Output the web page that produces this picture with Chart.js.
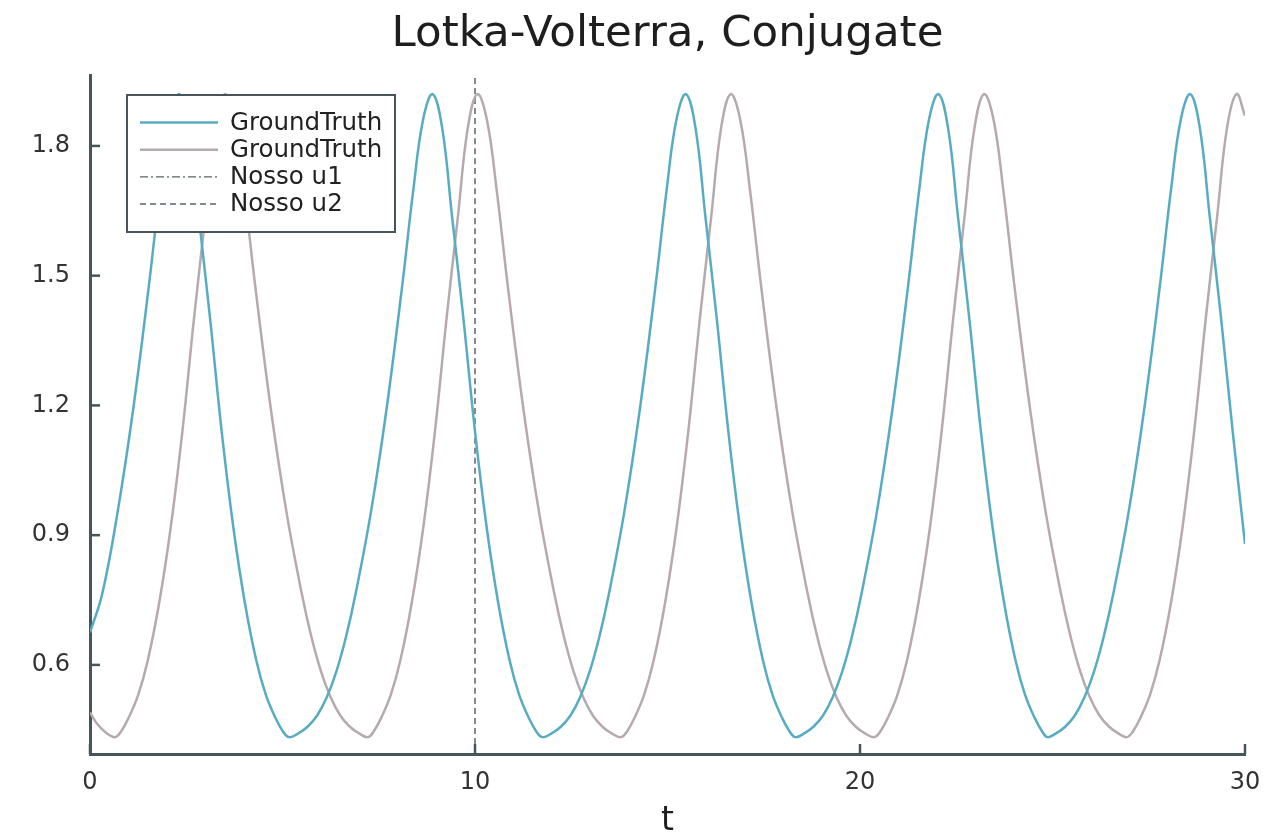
<!DOCTYPE html>
<html>
<head>
<meta charset="utf-8">
<script src="https://cdn.jsdelivr.net/npm/chart.js@4.4.0/dist/chart.umd.min.js"></script>
<style>
  html, body { margin: 0; padding: 0; background: #fff; }
</style>
</head>
<body>
<canvas id="lv" width="1275" height="838"></canvas>
<script>
const tU1 = [0, 0.32, 0.72, 1.12, 1.52, 1.82, 2.07, 2.32,
  2.57, 2.82, 3.12, 3.42, 3.72, 4.02, 4.32, 4.57, 4.82, 5.02, 5.17,
  5.40, 5.65, 5.90, 6.15, 6.40, 6.65, 6.90, 7.30, 7.70, 8.10, 8.40, 8.65, 8.90,
  9.15, 9.40, 9.70, 10.00, 10.30, 10.60, 10.90, 11.15, 11.40, 11.60, 11.75,
  11.98, 12.23, 12.48, 12.73, 12.98, 13.23, 13.48, 13.88, 14.28, 14.68, 14.98, 15.23, 15.48,
  15.73, 15.98, 16.28, 16.58, 16.88, 17.18, 17.48, 17.73, 17.98, 18.18, 18.32,
  18.54, 18.79, 19.04, 19.29, 19.54, 19.79, 20.04, 20.44, 20.84, 21.24, 21.54, 21.79, 22.04,
  22.29, 22.54, 22.84, 23.14, 23.44, 23.74, 24.04, 24.29, 24.54, 24.74, 24.87,
  25.08, 25.33, 25.58, 25.83, 26.08, 26.33, 26.58, 26.98, 27.38, 27.78, 28.08, 28.33, 28.58,
  28.83, 29.08, 29.38, 29.68, 30.00];
const u1 = [0.675, 0.765, 0.955, 1.19, 1.47, 1.70, 1.86, 1.92,
  1.84, 1.64, 1.40, 1.14, 0.92, 0.745, 0.61, 0.53, 0.477, 0.445, 0.433,
  0.441, 0.457, 0.483, 0.525, 0.585, 0.665, 0.765, 0.955, 1.19, 1.47, 1.70, 1.86, 1.92,
  1.84, 1.64, 1.40, 1.14, 0.92, 0.745, 0.61, 0.53, 0.477, 0.445, 0.433,
  0.441, 0.457, 0.483, 0.525, 0.585, 0.665, 0.765, 0.955, 1.19, 1.47, 1.70, 1.86, 1.92,
  1.84, 1.64, 1.40, 1.14, 0.92, 0.745, 0.61, 0.53, 0.477, 0.445, 0.433,
  0.441, 0.457, 0.483, 0.525, 0.585, 0.665, 0.765, 0.955, 1.19, 1.47, 1.70, 1.86, 1.92,
  1.84, 1.64, 1.40, 1.14, 0.92, 0.745, 0.61, 0.53, 0.477, 0.445, 0.433,
  0.441, 0.457, 0.483, 0.525, 0.585, 0.665, 0.765, 0.955, 1.19, 1.47, 1.70, 1.86, 1.92,
  1.84, 1.64, 1.40, 1.14, 0.88];

// ground truth u2 (predator)
const tU2 = [0, 0.20, 0.42, 0.65,
  0.80, 1.00, 1.25, 1.50, 1.80, 2.10, 2.40, 2.70, 3.00, 3.25, 3.50,
  3.75, 4.00, 4.30, 4.70, 5.10, 5.50, 5.75, 6.00, 6.25, 6.50, 6.75, 7.00, 7.22,
  7.36, 7.56, 7.81, 8.06, 8.36, 8.66, 8.96, 9.26, 9.56, 9.81, 10.06,
  10.31, 10.56, 10.86, 11.26, 11.66, 12.06, 12.31, 12.56, 12.81, 13.06, 13.31, 13.56, 13.79,
  13.94, 14.14, 14.39, 14.64, 14.94, 15.24, 15.54, 15.84, 16.14, 16.39, 16.64,
  16.89, 17.14, 17.44, 17.84, 18.24, 18.64, 18.89, 19.14, 19.39, 19.64, 19.89, 20.14, 20.37,
  20.52, 20.72, 20.97, 21.22, 21.52, 21.82, 22.12, 22.42, 22.72, 22.97, 23.22,
  23.47, 23.72, 24.02, 24.42, 24.82, 25.22, 25.47, 25.72, 25.97, 26.22, 26.47, 26.72, 26.93,
  27.08, 27.28, 27.53, 27.78, 28.08, 28.38, 28.68, 28.98, 29.28, 29.53, 29.78,
  30.00];
const u2 = [0.49, 0.462, 0.443, 0.433,
  0.445, 0.477, 0.53, 0.61, 0.745, 0.92, 1.14, 1.40, 1.64, 1.84, 1.92,
  1.86, 1.70, 1.47, 1.19, 0.955, 0.765, 0.665, 0.585, 0.525, 0.483, 0.457, 0.441, 0.433,
  0.445, 0.477, 0.53, 0.61, 0.745, 0.92, 1.14, 1.40, 1.64, 1.84, 1.92,
  1.86, 1.70, 1.47, 1.19, 0.955, 0.765, 0.665, 0.585, 0.525, 0.483, 0.457, 0.441, 0.433,
  0.445, 0.477, 0.53, 0.61, 0.745, 0.92, 1.14, 1.40, 1.64, 1.84, 1.92,
  1.86, 1.70, 1.47, 1.19, 0.955, 0.765, 0.665, 0.585, 0.525, 0.483, 0.457, 0.441, 0.433,
  0.445, 0.477, 0.53, 0.61, 0.745, 0.92, 1.14, 1.40, 1.64, 1.84, 1.92,
  1.86, 1.70, 1.47, 1.19, 0.955, 0.765, 0.665, 0.585, 0.525, 0.483, 0.457, 0.441, 0.433,
  0.445, 0.477, 0.53, 0.61, 0.745, 0.92, 1.14, 1.40, 1.64, 1.84, 1.92,
  1.87];

// "Nosso" predictions: only the vertical marker at t = 10 is visible
const tNosso = [10, 10];
const nossoU1 = [];
const nossoU2 = [0.394, 1.964];

const xTicks = [0, 10, 20, 30];
const yTicks = [0.6, 0.9, 1.2, 1.5, 1.8];
const seriesNames = ["GroundTruth", "GroundTruth", "Nosso u1", "Nosso u2"];

const axisColor = "#46555a";
const FONT = "DejaVu Sans";

function pts(ts, vs) {
  return vs.map((v, i) => ({ x: ts[i], y: v }));
}

// Julia-style inward tick marks
const tickMarks = {
  id: "tickMarks",
  afterDraw(chart) {
    const { ctx, chartArea: a, scales: { x, y } } = chart;
    ctx.save();
    ctx.strokeStyle = axisColor;
    ctx.lineWidth = 2.5;
    y.ticks.forEach(t => {
      const py = y.getPixelForValue(t.value);
      ctx.beginPath();
      ctx.moveTo(a.left, py);
      ctx.lineTo(a.left + 10, py);
      ctx.stroke();
    });
    x.ticks.forEach(t => {
      const px = x.getPixelForValue(t.value);
      ctx.beginPath();
      ctx.moveTo(px, a.bottom);
      ctx.lineTo(px, a.bottom - 10);
      ctx.stroke();
    });
    ctx.restore();
  }
};

// boxed legend in the upper left of the plot
const boxLegend = {
  id: "boxLegend",
  afterDraw(chart) {
    const { ctx, chartArea: a } = chart;
    const left = a.left + 37, top = a.top + 20, w = 268, h = 137;
    ctx.save();
    ctx.fillStyle = "#fff";
    ctx.fillRect(left, top, w, h);
    ctx.strokeStyle = axisColor;
    ctx.lineWidth = 2;
    ctx.strokeRect(left, top, w, h);
    ctx.font = "24.5px '" + FONT + "'";
    ctx.textBaseline = "middle";
    chart.data.datasets.forEach((ds, i) => {
      const cy = top + 27.5 + i * 27.2;
      ctx.strokeStyle = ds.borderColor;
      ctx.lineWidth = ds.borderWidth;
      ctx.setLineDash(ds.borderDash || []);
      ctx.beginPath();
      ctx.moveTo(left + 13, cy);
      ctx.lineTo(left + 91, cy);
      ctx.stroke();
      ctx.setLineDash([]);
      ctx.fillStyle = "#222";
      ctx.fillText(ds.label, left + 103, cy + 1);
    });
    ctx.restore();
  }
};

new Chart(document.getElementById("lv"), {
  type: "line",
  data: {
    datasets: [
      {
        label: seriesNames[0],
        data: pts(tU1, u1),
        borderColor: "rgb(88,172,194)",
        borderWidth: 2.5,
        order: 0
      },
      {
        label: seriesNames[1],
        data: pts(tU2, u2),
        borderColor: "rgb(180,170,175)",
        borderWidth: 2.5,
        order: 1
      },
      {
        label: seriesNames[2],
        data: pts(tNosso, nossoU1),
        borderColor: "#5a6468",
        borderWidth: 1.2,
        borderDash: [8, 3, 2, 3],
        order: 2
      },
      {
        label: seriesNames[3],
        data: pts(tNosso, nossoU2),
        borderColor: "#5a6468",
        borderWidth: 1.5,
        borderDash: [6, 4],
        order: 2
      }
    ]
  },
  options: {
    responsive: false,
    animation: false,
    elements: {
      point: { radius: 0, hoverRadius: 0 },
      line: { tension: 0.4, fill: false }
    },
    layout: { padding: { left: 0, right: 30, top: 0, bottom: 0 } },
    plugins: {
      legend: { display: false },
      tooltip: { enabled: false },
      title: {
        display: true,
        text: "Lotka-Volterra, Conjugate",
        color: "#1e1e1e",
        fullSize: false,
        font: { family: FONT, size: 43.5, weight: "normal", lineHeight: 1.2 },
        padding: { top: 9, bottom: 13.8 }
      }
    },
    scales: {
      x: {
        type: "linear",
        min: 0,
        max: 30,
        afterFit(s) { s.height = 84; },
        afterBuildTicks(s) { s.ticks = xTicks.map(v => ({ value: v })); },
        grid: { display: false, drawTicks: false },
        border: { display: true, color: axisColor, width: 3 },
        ticks: {
          color: "#333",
          padding: 14,
          maxRotation: 0,
          font: { family: FONT, size: 24 },
          callback: v => String(v)
        },
        title: {
          display: true,
          text: "t",
          color: "#1e1e1e",
          font: { family: FONT, size: 33, lineHeight: 1 },
          padding: { top: 0, bottom: 0 }
        }
      },
      y: {
        type: "linear",
        min: 0.394,
        max: 1.964,
        afterFit(s) { s.width = 90; },
        afterBuildTicks(s) { s.ticks = yTicks.map(v => ({ value: v })); },
        grid: { display: false, drawTicks: false },
        border: { display: true, color: axisColor, width: 3 },
        ticks: {
          color: "#333",
          padding: 20,
          font: { family: FONT, size: 24 },
          callback: v => v.toFixed(1)
        }
      }
    }
  },
  plugins: [tickMarks, boxLegend]
});
</script>
</body>
</html>
